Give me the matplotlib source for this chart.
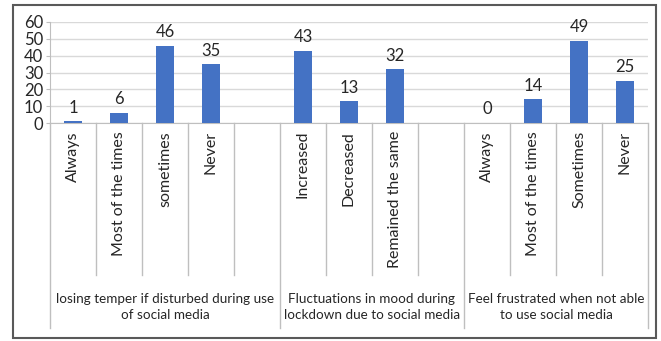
import matplotlib
matplotlib.use("Agg")
import matplotlib.pyplot as plt
from matplotlib.patches import Rectangle

plt.rcParams['font.family'] = ['Lato', 'DejaVu Sans']

# survey groups and their answer categories
groups = [
    "losing temper if disturbed during use\nof social media",
    "Fluctuations in mood during\nlockdown due to social media",
    "Feel frustrated when not able\nto use social media",
]
temper_labels = ["Always", "Most of the times", "sometimes", "Never", ""]
temper_values = [1, 6, 46, 35, None]
mood_labels = ["Increased", "Decreased", "Remained the same", ""]
mood_values = [43, 13, 32, None]
frustr_labels = ["Always", "Most of the times", "Sometimes", "Never"]
frustr_values = [0, 14, 49, 25]

group_labels = [temper_labels, mood_labels, frustr_labels]
group_values = [temper_values, mood_values, frustr_values]

labels = temper_labels + mood_labels + frustr_labels
values = temper_values + mood_values + frustr_values
n = len(labels)

W, H = 661, 341
fig = plt.figure(figsize=(W / 100, H / 100), dpi=100)
ax = fig.add_axes([50 / W, (H - 123) / H, 598 / W, 101 / H])

bar_color = "#4472C4"
xs = [i for i, v in enumerate(values) if v is not None]
vs = [v for v in values if v is not None]
ax.bar(xs, vs, width=0.4, color=bar_color, zorder=3)
for x, v in zip(xs, vs):
    ax.annotate(str(v), (x, v), xytext=(0, 4), textcoords="offset points",
                ha="center", va="bottom", fontsize=12, color="#262626")

ax.set_xlim(-0.5, n - 0.5)
ax.set_ylim(0, 60)
ax.set_yticks(range(0, 61, 10))
ax.tick_params(axis="y", labelsize=12, length=3, color="#BFBFBF",
               labelcolor="#262626", pad=2)
ax.set_xticks([])
ax.yaxis.grid(True, color="#D9D9D9", linewidth=1, zorder=0)
ax.set_axisbelow(True)
for s in ["top", "right"]:
    ax.spines[s].set_visible(False)
ax.spines["left"].set_color("#BFBFBF")
ax.spines["bottom"].set_color("#BFBFBF")

# multi-level category axis below the plot
trans = ax.get_xaxis_transform()
line_kw = dict(color="#BFBFBF", linewidth=1, transform=trans, clip_on=False)
y_slot = -(275 - 123) / 101
y_group = -(328 - 123) / 101
group_edges = [-0.5]
start = 0
for gl in group_labels:
    start += len(gl)
    group_edges.append(start - 0.5)
for i in range(n + 1):
    edge = i - 0.5
    bottom = y_group if edge in group_edges else y_slot
    ax.plot([edge, edge], [0, bottom], **line_kw)

for i, lab in enumerate(labels):
    if lab:
        ax.text(i, -(131 - 123) / 101, lab, rotation=90, ha="center", va="top",
                fontsize=11.5, color="#262626", transform=trans)

for g, text in enumerate(groups):
    center = (group_edges[g] + group_edges[g + 1]) / 2
    ax.text(center, -(307 - 123) / 101, text, ha="center", va="center",
            fontsize=9.7, color="#262626", transform=trans, linespacing=1.45)

# outer frame
fig.patches.append(Rectangle((13 / W, 3 / H), 643 / W, 333 / H, fill=False,
                             edgecolor="#595959", linewidth=1.5,
                             transform=fig.transFigure))

fig.savefig("out.png", dpi=100)
